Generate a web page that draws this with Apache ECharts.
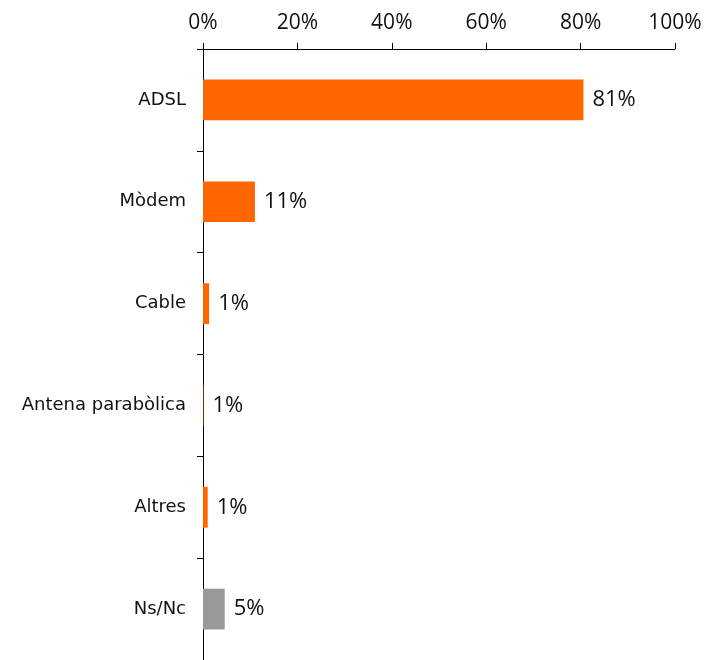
<!DOCTYPE html>
<html>
<head>
<meta charset="utf-8">
<script src="https://cdn.jsdelivr.net/npm/echarts@6/dist/echarts.min.js"></script>
<style>
  html, body { margin: 0; padding: 0; background: #fff; }
  #chart { width: 708px; height: 660px; }
</style>
</head>
<body>
<div id="chart"></div>
<script>
// categories and values
const categories = ['ADSL', 'Mòdem', 'Cable', 'Antena parabòlica', 'Altres', 'Ns/Nc'];
const values = [80.6, 11.0, 1.3, 0.1, 1.0, 4.6];
const valueLabels = ['81%', '11%', '1%', '1%', '1%', '5%'];
const barColors = ['#ff6600', '#ff6600', '#ff6600', '#ff6600', '#ff6600', '#999999'];
const xTicks = [0, 20, 40, 60, 80, 100];

const chart = echarts.init(document.getElementById('chart'));

const option = {
  animation: false,
  grid: { left: 203, right: 33, top: 49, bottom: -5, containLabel: false },
  xAxis: {
    type: 'value',
    position: 'top',
    min: xTicks[0],
    max: xTicks[xTicks.length - 1],
    interval: 20,
    axisLine: { show: true, lineStyle: { color: '#000', width: 1 } },
    axisTick: { show: true, length: 6, lineStyle: { color: '#000' } },
    splitLine: { show: false },
    axisLabel: {
      formatter: '{value}%',
      color: '#111',
      fontFamily: 'Open Sans',
      fontSize: 21,
      margin: 15
    }
  },
  yAxis: {
    type: 'category',
    inverse: true,
    data: categories,
    axisLine: { show: true, lineStyle: { color: '#000', width: 1 } },
    axisTick: { show: true, length: 6, lineStyle: { color: '#000' } },
    axisLabel: {
      color: '#111',
      fontFamily: 'DejaVu Sans',
      fontSize: 18,
      margin: 17
    }
  },
  series: [{
    type: 'bar',
    barWidth: '40%',
    data: values.map((v, i) => ({
      value: v,
      itemStyle: { color: barColors[i] }
    })),
    label: {
      show: true,
      position: 'right',
      distance: 9,
      color: '#111',
      fontFamily: 'Open Sans',
      fontSize: 22,
      formatter: p => valueLabels[p.dataIndex]
    }
  }]
};

chart.setOption(option);
</script>
</body>
</html>
